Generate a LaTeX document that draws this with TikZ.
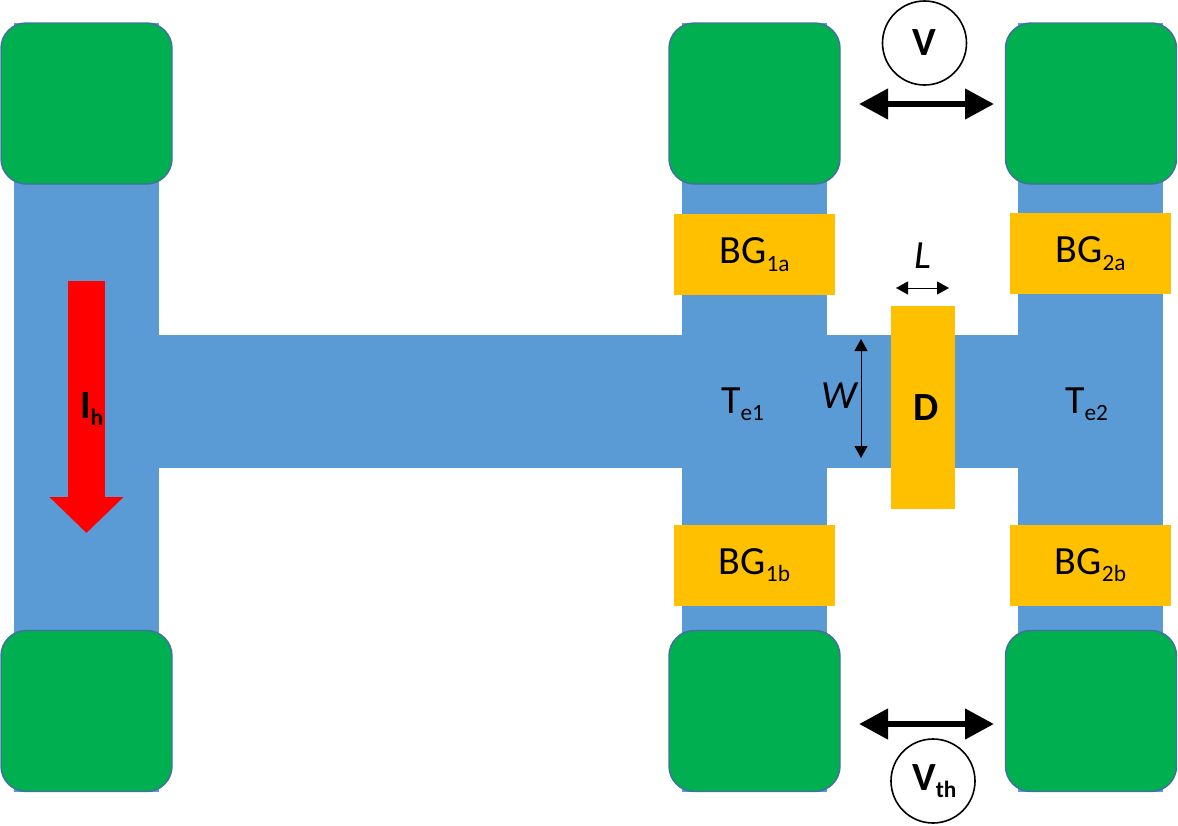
\documentclass[tikz,border=0pt]{standalone}
\usepackage{fontspec}
\setmainfont{Carlito}
\usetikzlibrary{arrows.meta}
\newcommand{\mainsize}{\fontsize{30pt}{32pt}\selectfont}
\newcommand{\lowsub}[1]{\raisebox{-5.5pt}{\fontsize{17.5pt}{20pt}\selectfont #1}}
\definecolor{channel}{HTML}{5B9BD5}
\definecolor{contact}{HTML}{00B050}
\definecolor{padedge}{HTML}{41719C}
\definecolor{gate}{HTML}{FFC000}
\tikzset{
  % one unit is one pixel of the 1178 x 825 layout
  x=0.75pt, y=-0.75pt,
  every node/.style={inner sep=0pt, outer sep=0pt, font=\mainsize, text=black},
  bar/.style={fill=channel, draw=none},
  contactpad/.style={rectangle, rounded corners=19pt, fill=contact, draw=padedge,
    line width=1.1pt, minimum width=128.25pt, minimum height=120.75pt},
  bottomgate/.style={fill=gate, minimum width=120.75pt, minimum height=60.75pt},
  meter/.style={circle, draw=black, line width=1.2pt, fill=white, minimum size=63pt},
  label/.style={anchor=base west},
  bigarrow/.style={line width=4.75pt, black,
    {Triangle[length=21.75pt,width=22pt]}-{Triangle[length=21.75pt,width=22pt]}},
  dimarrow/.style={line width=0.75pt, black,
    {Triangle[length=9pt,width=9.75pt]}-{Triangle[length=9pt,width=9.75pt]}},
  heatarrow/.style={line width=27.75pt, red,
    -{Triangle[length=27pt,width=54pt]}}
}
\begin{document}
\begin{tikzpicture}
  \useasboundingbox (0,0) rectangle (1178,825);

  % Hall bar: three vertical arms and the horizontal bridge
  \node[bar, minimum width=108.75pt, minimum height=576.75pt] (armL) at (86.5,407.5) {};
  \node[bar, minimum width=108.75pt, minimum height=576.75pt] (armM) at (754.5,407.5) {};
  \node[bar, minimum width=108.75pt, minimum height=576.75pt] (armR) at (1090.5,407.5) {};
  \node[bar, minimum width=644.25pt, minimum height=99.75pt] (bridge) at (588.5,401.5) {};

  % Contact pads
  \node[contactpad] (padLt) at (86.5,103.5) {};
  \node[contactpad] (padLb) at (86.5,711) {};
  \node[contactpad] (padMt) at (754.5,103.5) {};
  \node[contactpad] (padMb) at (754.5,711) {};
  \node[contactpad] (padRt) at (1091,103.5) {};
  \node[contactpad] (padRb) at (1091,711) {};

  % Gates
  \node[bottomgate] (bg1a) at (754.5,254.5) {BG\lowsub{1a}\hspace{7.5pt}};
  \node[bottomgate] (bg2a) at (1090.5,253.5) {BG\lowsub{2a}\hspace{7.5pt}};
  \node[bottomgate] (bg1b) at (754.5,565) {BG\lowsub{1b}\hspace{7.5pt}};
  \node[bottomgate] (bg2b) at (1090.5,565) {BG\lowsub{2b}\hspace{7.5pt}};
  \node[fill=gate, minimum width=48pt, minimum height=152.25pt] (dev) at (923,407.5)
    {\hspace{5.25pt}\textbf{D}};

  % Temperature labels and device dimensions
  \node[label] (te1) at (721,413) {T\lowsub{e1}};
  \node[label] (te2) at (1065,413) {T\lowsub{e2}};
  \node[label] (wlab) at (821,408) {\textit{W}};
  \node[label] (llab) at (914,268) {\textit{L}};

  \coordinate (wtop) at (861,339);
  \coordinate (wbot) at (861,458);
  \draw[dimarrow] (wtop) -- (wbot);
  \coordinate (lleft) at (896,288);
  \coordinate (lright) at (949,288);
  \draw[dimarrow] (lleft) -- (lright);

  % Voltage probes
  \coordinate (vleft) at (859,104);
  \coordinate (vright) at (994,104);
  \draw[bigarrow] (vleft) -- (vright);
  \node[meter] (vmeter) at (924.5,43) {\textbf{V}};

  \coordinate (thleft) at (859,724);
  \coordinate (thright) at (994,724);
  \draw[bigarrow] (thleft) -- (thright);
  \node[meter] (thmeter) at (933,781) {\hspace{2pt}\textbf{V\lowsub{th}}};

  % Heating current
  \coordinate (heatstart) at (86.5,281);
  \coordinate (heatend) at (86.5,533);
  \draw[heatarrow] (heatstart) -- (heatend);
  \node[label] (ih) at (80,418) {\textbf{I\lowsub{h}}};
\end{tikzpicture}
\end{document}
